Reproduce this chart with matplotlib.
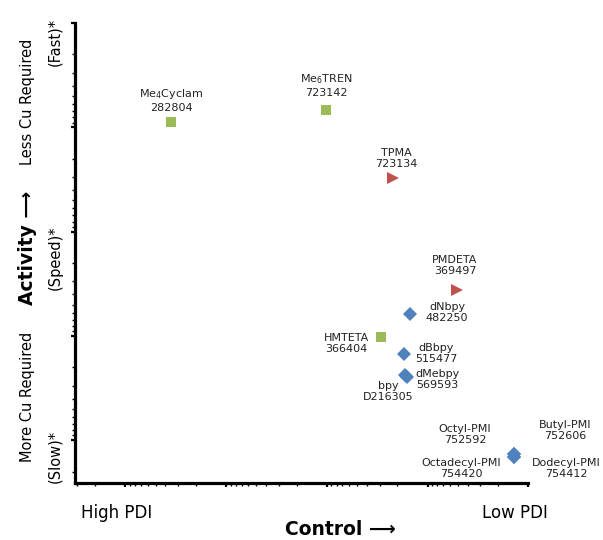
import matplotlib
matplotlib.use("Agg")
from matplotlib import pyplot as plt

# ligand data: name, catalog number, control (PDI-like, high -> low), activity (slow -> fast)
names = ["Me$_4$Cyclam", "Me$_6$TREN", "TPMA", "PMDETA", "dNbpy", "HMTETA",
         "dBbpy", "dMebpy", "bpy", "Octyl-PMI", "Butyl-PMI", "Octadecyl-PMI", "Dodecyl-PMI"]
catalog = ["282804", "723142", "723134", "369497", "482250", "366404",
           "515477", "569593", "D216305", "752592", "752606", "754420", "754412"]
control = [3510, 102, 22.0, 5.10, 14.9, 28.9, 17.1, 16.7, 16.0, 1.39, 1.39, 1.39, 1.39]
activity = [8.91, 6.83, 30.7, 364, 618, 1028, 1496, 2379, 2490, 13500, 13500, 14400, 14400]
group = ["amine", "amine", "tri", "tri", "bpy", "amine",
         "bpy", "bpy", "bpy", "bpy", "bpy", "bpy", "bpy"]

# label offsets in pixels (text centre relative to marker)
label_offsets = [(0, 22), (0, 25), (3, 20), (-2, 25), (37, 2), (-35, -6),
                 (32, 1), (32, -4), (-19, -14), (-49, 19), (51, 23), (-53, -12), (52, -12)]

styles = {
    "amine": dict(marker="s", ms=7.5, color="#9BBB59"),
    "tri": dict(marker=">", ms=8.5, color="#C0504D"),
    "bpy": dict(marker="D", ms=7.2, color="#4F81BD"),
}

fig = plt.figure(figsize=(6.03, 5.40), dpi=100)
fig.set_facecolor("white")
ax = fig.add_axes([0.1244, 0.1056, 0.8761 - 0.1244, 0.9574 - 0.1056])

for g, st in styles.items():
    xs = [c for c, gg in zip(control, group) if gg == g]
    ys = [a for a, gg in zip(activity, group) if gg == g]
    ax.plot(xs, ys, linestyle="none", marker=st["marker"], ms=st["ms"],
            color=st["color"], markeredgewidth=0, zorder=3)

for name, cat, x, y, off in zip(names, catalog, control, activity, label_offsets):
    ax.annotate(f"{name}\n{cat}", xy=(x, y), xytext=off, textcoords="offset pixels",
                ha="center", va="center", fontsize=8, color="#222222",
                linespacing=1.15, zorder=4)

ax.set_xscale("log")
ax.set_yscale("log")
ax.set_xlim(10 ** 4.5, 1)
ax.set_ylim(10 ** 4.41, 1)

for spine in ["top", "right"]:
    ax.spines[spine].set_visible(False)
for spine in ["left", "bottom"]:
    ax.spines[spine].set_linewidth(2.3)
    ax.spines[spine].set_color("black")

ax.tick_params(which="major", direction="out", length=3, width=1.6, color="black",
               labelleft=False, labelbottom=False)
ax.tick_params(which="minor", direction="out", length=2, width=1.0, color="black",
               labelleft=False, labelbottom=False)

fig.text(0.194, 0.05, "High PDI", ha="center", va="center", fontsize=12)
fig.text(0.854, 0.05, "Low PDI", ha="center", va="center", fontsize=12)
fig.text(0.564, 0.02, "Control \u27f6", ha="center", va="center",
         fontsize=13.5, fontweight="bold")

fig.text(0.045, 0.811, "Less Cu Required", rotation=90, ha="center", va="center", fontsize=10.5)
fig.text(0.045, 0.541, "Activity \u27f6", rotation=90, ha="center", va="center",
         fontsize=13.5, fontweight="bold")
fig.text(0.045, 0.265, "More Cu Required", rotation=90, ha="center", va="center", fontsize=10.5)
fig.text(0.091, 0.922, "(Fast)*", rotation=90, ha="center", va="center", fontsize=10.5)
fig.text(0.091, 0.522, "(Speed)*", rotation=90, ha="center", va="center", fontsize=10.5)
fig.text(0.091, 0.154, "(Slow)*", rotation=90, ha="center", va="center", fontsize=10.5)

fig.savefig("out.png", dpi=100, facecolor="white")
